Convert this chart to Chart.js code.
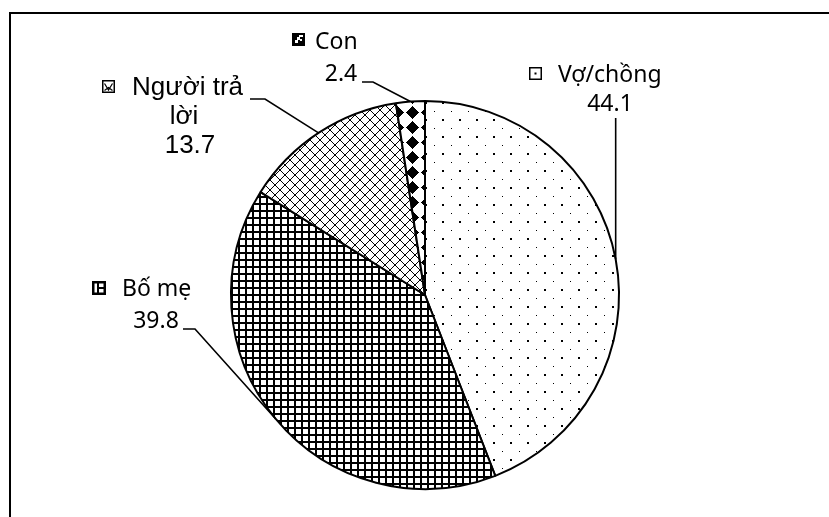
<!DOCTYPE html>
<html>
<head>
<meta charset="utf-8">
<script src="https://cdn.jsdelivr.net/npm/chart.js@4/dist/chart.umd.min.js"></script>
<style>
  html,body{margin:0;padding:0;background:#fff;}
  #wrap{width:829px;height:517px;}
</style>
</head>
<body>
<div id="wrap"><canvas id="chartPie" width="829" height="517"></canvas></div>
<script>
// data
const categories = ['Vợ/chồng', 'Bố mẹ', 'Người trả lời', 'Con'];
const values = [44.1, 39.8, 13.7, 2.4];
const valueLabels = ['44.1', '39.8', '13.7', '2.4'];

const FONT_A = '23px "Noto Sans"';
const FONT_B = '26px "Liberation Sans"';

// label layout (positions only, one per category)
const labelLayout = [
  { key:'dots',  box:[529,67,13], font:FONT_A,
    lines:[['Vợ/chồng',558,75,'left'],['44.1',610,104,'center']],
    leader:'vertical', leaderTop:118 },
  { key:'grid',  box:[92,281,14], font:FONT_A,
    lines:[['Bố mẹ',122,289,'left'],['39.8',156,321,'center']],
    leader:[[183,329],[195,329]] },
  { key:'cross', box:[102,80,13], font:FONT_B,
    lines:[['Người trả',132,88,'left'],['lời',184,117,'center'],['13.7',190,146,'center']],
    leader:[[250,99],[265,99]] },
  { key:'diam',  box:[292,33,13], font:FONT_A,
    lines:[['Con',315,42,'left'],['2.4',341,74,'center']],
    leader:[[362,82],[373,82]] }
];

function tile(size, draw){
  const c = document.createElement('canvas');
  c.width = size; c.height = size;
  const g = c.getContext('2d');
  g.fillStyle = '#fff'; g.fillRect(0,0,size,size);
  g.fillStyle = '#000';
  draw(g, size);
  return c;
}

const ctx = document.getElementById('chartPie').getContext('2d');

const pDots = ctx.createPattern(tile(17, g=>{
  g.fillRect(0,0,2,2);
  g.fillRect(9,9,1,1);
}), 'repeat');

const pGrid = ctx.createPattern(tile(14, g=>{
  g.fillRect(0,0,14,2); g.fillRect(0,0,2,14);
  g.fillRect(0,7,14,2); g.fillRect(7,0,2,14);
}), 'repeat');

const pCross = ctx.createPattern(tile(10, g=>{
  for(let i=0;i<10;i++){ g.fillRect(i,i,1,1); g.fillRect(9-i,i,1,1); }
}), 'repeat');

const pDiam = ctx.createPattern(tile(15, g=>{
  const r = 6, cx = 7, cy = 7;
  for(let dy=-r; dy<=r; dy++){
    const w = r - Math.abs(dy);
    g.fillRect(cx-w, cy+dy, 2*w+1, 1);
  }
}), 'repeat');

const fills = [pDots, pGrid, pCross, pDiam];

function drawKey(c, type, x, y, s){
  c.save();
  c.fillStyle = '#fff'; c.fillRect(x,y,s,s);
  c.strokeStyle = '#000'; c.fillStyle = '#000';
  if(type === 'dots'){
    c.lineWidth = 1.5; c.strokeRect(x+0.75,y+0.75,s-1.5,s-1.5);
    c.fillRect(x+s/2-1,y+s/2-1,2,2);
  } else if(type === 'grid'){
    c.lineWidth = 2.5; c.strokeRect(x+1.25,y+1.25,s-2.5,s-2.5);
    c.fillRect(x+5,y,2,s);
    c.fillRect(x+5,y+s/2-1,s-5,2);
  } else if(type === 'cross'){
    c.lineWidth = 1.5; c.strokeRect(x+0.75,y+0.75,s-1.5,s-1.5);
    c.lineWidth = 1.2;
    c.beginPath();
    c.moveTo(x+2.5,y+3.5); c.lineTo(x+s/2,y+s-3); c.lineTo(x+s-2.5,y+3.5);
    c.moveTo(x+2.5,y+s-2.5); c.lineTo(x+s/2,y+s/2+1); c.lineTo(x+s-2.5,y+s-2.5);
    c.stroke();
  } else if(type === 'diam'){
    c.fillRect(x,y,s,s);
    c.fillStyle = '#fff';
    c.fillRect(x+7,y+2,4,2);
    c.fillRect(x+5,y+4,3,3);
    c.fillRect(x+3,y+7,3,3);
    c.fillRect(x+8,y+6,2,2);
  }
  c.restore();
}

const framePlugin = {
  id:'frame',
  beforeDraw(chart){
    const c = chart.ctx;
    c.save();
    c.fillStyle = '#fff';
    c.fillRect(0,0,chart.width,chart.height);
    c.strokeStyle = '#000'; c.lineWidth = 2;
    c.beginPath();
    c.moveTo(10, chart.height); c.lineTo(10, 13); c.lineTo(chart.width, 13);
    c.stroke();
    c.restore();
  }
};

const labelPlugin = {
  id:'pieLabels',
  afterDraw(chart){
    const c = chart.ctx;
    const meta = chart.getDatasetMeta(0);
    c.save();
    labelLayout.forEach((lay, i)=>{
      const arc = meta.data[i];
      const p = arc.getProps(['x','y','startAngle','endAngle','outerRadius'], true);
      const mid = (p.startAngle + p.endAngle) / 2;
      const ex = p.x + Math.cos(mid) * p.outerRadius;
      const ey = p.y + Math.sin(mid) * p.outerRadius;
      // leader line
      c.strokeStyle = '#000'; c.lineWidth = 1.6;
      c.beginPath();
      if(lay.leader === 'vertical'){
        c.moveTo(ex, lay.leaderTop); c.lineTo(ex, ey);
      } else {
        c.moveTo(lay.leader[0][0], lay.leader[0][1]);
        for(let k=1;k<lay.leader.length;k++) c.lineTo(lay.leader[k][0], lay.leader[k][1]);
        c.lineTo(ex, ey);
      }
      c.stroke();
      // key box
      drawKey(c, lay.key, lay.box[0], lay.box[1], lay.box[2]);
      // text
      c.fillStyle = '#000';
      c.font = lay.font;
      c.textBaseline = 'middle';
      lay.lines.forEach(([t,x,y,al])=>{
        c.textAlign = al;
        c.fillText(t, x, y);
      });
    });
    c.restore();
  }
};

new Chart(ctx, {
  type:'pie',
  data:{
    labels: categories,
    datasets:[{
      data: values,
      backgroundColor: fills,
      borderColor:'#000',
      borderWidth:2,
      hoverOffset:0
    }]
  },
  options:{
    responsive:false,
    devicePixelRatio:1,
    animation:false,
    events:[],
    layout:{ padding:{ top:100, bottom:27, left:21, right:0 } },
    plugins:{ legend:{ display:false }, tooltip:{ enabled:false } }
  },
  plugins:[framePlugin, labelPlugin]
});
</script>
</body>
</html>
